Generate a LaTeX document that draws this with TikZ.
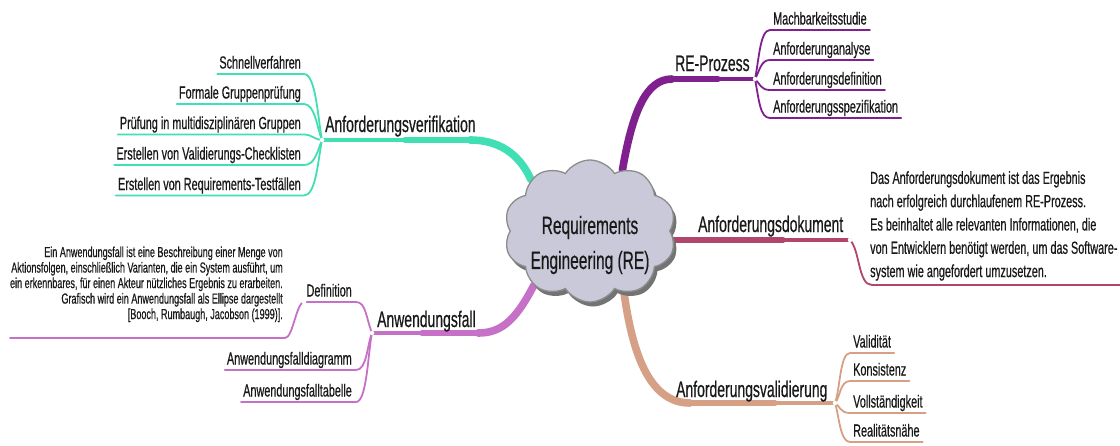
\documentclass[tikz,border=0pt]{standalone}
\usepackage{fontspec}
\setmainfont{Liberation Sans}[FakeStretch=0.62, FakeBold=0.5]
\usetikzlibrary{shapes.symbols,shadows,calc}
\pgfdeclarelayer{bg}
\pgfsetlayers{bg,main}
\definecolor{verif}{HTML}{40DFB4}
\definecolor{proz}{HTML}{80208F}
\definecolor{doku}{HTML}{B0466E}
\definecolor{anw}{HTML}{C670C8}
\definecolor{vali}{HTML}{D6A087}
\definecolor{cloudfill}{HTML}{C9C9D9}
\definecolor{cloudline}{HTML}{8C8C8C}
\begin{document}
\begin{tikzpicture}[x=1pt,y=-1pt,
  mainlbl/.style={font=\fontsize{22.5}{26}\selectfont, inner sep=0pt, text=black!90},
  sublbl/.style={font=\fontsize{17.5}{20}\selectfont, inner sep=0pt, text=black!90},
  notetext/.style={inner sep=0pt, text=black!90},
  trunkthin/.style={line width=4.2pt, line cap=round},
  trunkmid/.style={line width=5.8pt, line cap=round},
  trunkthick/.style={line width=7.6pt, line cap=round},
  twig/.style={line width=1.8pt, line cap=round, line join=round},
  knot/.style={circle, fill=white, inner sep=0pt, minimum size=4.5pt},
  core/.style={cloud, cloud puffs=10, cloud puff arc=115, aspect=1.2,
    minimum width=172pt, minimum height=142pt, fill=cloudfill,
    draw=cloudline, line width=1.3pt,
    drop shadow={shadow xshift=3pt, shadow yshift=-4.5pt, fill=black!55, opacity=1}},
  coretext/.style={align=center, inner sep=0pt, font=\fontsize{25}{35}\selectfont, text=black!90}
]
\useasboundingbox (0,0) rectangle (1120,445);

% central topic
\node[core] (re) at (590,231) {};
\node[coretext] (retxt) at (590,245) {Requirements\\Engineering (RE)};

% branch junctions and free ends
\node[knot] (jv) at (322,140) {};
\node[knot] (jp) at (755,79) {};
\node[knot] (jd) at (850,240) {};
\node[knot] (jf) at (372,333) {};
\node[knot] (jval) at (835,403) {};
\node[knot] (jdef) at (304,302) {};
\coordinate (dend) at (1120,285);
\coordinate (defend) at (10,338);

% main topics
\node[mainlbl, anchor=base west] (lv) at (325,132) {Anforderungsverifikation};
\node[mainlbl, anchor=base west] (lp) at (675,71) {RE-Prozess};
\node[mainlbl, anchor=base west] (ld) at (698,232) {Anforderungsdokument};
\node[mainlbl, anchor=base west] (lf) at (377,327) {Anwendungsfall};
\node[mainlbl, anchor=base west] (lval) at (676,397) {Anforderungsvalidierung};

% verification subtopics
\node[sublbl, anchor=base east] (v1) at (301,68.5) {Schnellverfahren};
\node[sublbl, anchor=base east] (v2) at (301,98.5) {Formale Gruppenprüfung};
\node[sublbl, anchor=base east] (v3) at (301,129) {Prüfung in multidisziplinären Gruppen};
\node[sublbl, anchor=base east] (v4) at (301,159.5) {Erstellen von Validierungs-Checklisten};
\node[sublbl, anchor=base east] (v5) at (301,190) {Erstellen von Requirements-Testfällen};

% process subtopics
\node[sublbl, anchor=base west] (p1) at (773,24.5) {Machbarkeitsstudie};
\node[sublbl, anchor=base west] (p2) at (773,54.5) {Anforderunganalyse};
\node[sublbl, anchor=base west] (p3) at (773,84.5) {Anforderungsdefinition};
\node[sublbl, anchor=base west] (p4) at (773,112.5) {Anforderungsspezifikation};

% use case subtopics
\node[sublbl, anchor=base east] (f1) at (352,296.5) {Definition};
\node[sublbl, anchor=base east] (f2) at (352,364.5) {Anwendungsfalldiagramm};
\node[sublbl, anchor=base east] (f3) at (352,396.5) {Anwendungsfalltabelle};

% validation subtopics
\node[sublbl, anchor=base west] (a1) at (853,347.5) {Validität};
\node[sublbl, anchor=base west] (a2) at (853,375.5) {Konsistenz};
\node[sublbl, anchor=base west] (a3) at (853,407.5) {Vollständigkeit};
\node[sublbl, anchor=base west] (a4) at (853,436.5) {Realitätsnähe};

% notes
\node[notetext, anchor=north west, align=left, font=\fontsize{17.5}{23.3}\selectfont] (dtext) at (870,171)
  {Das Anforderungsdokument ist das Ergebnis\\nach erfolgreich durchlaufenem RE-Prozess.\\Es beinhaltet alle relevanten Informationen, die\\von Entwicklern benötigt werden, um das Software-\\system wie angefordert umzusetzen.};
\node[notetext, anchor=north east, align=right, font=\fontsize{14.6}{15.5}\selectfont] (deftxt) at (283,246.3)
  {Ein Anwendungsfall ist eine Beschreibung einer Menge von\\Aktionsfolgen, einschließlich Varianten, die ein System ausführt, um\\ein erkennbares, für einen Akteur nützliches Ergebnis zu erarbeiten.\\Grafisch wird ein Anwendungsfall als Ellipse dargestellt\\{[}Booch, Rumbaugh, Jacobson (1999){]}.};

\begin{pgfonlayer}{bg}
\fill[white] (0,0) rectangle (1120,445);
% trunks from the central topic, thinning towards the junctions
\draw[trunkthin, verif] (jv.center) -- (410,140);
\draw[trunkmid, verif] (405,140) -- (470,140);
\draw[trunkthick, verif] (470,140) .. controls (505,140) and (522,160) .. (re.139);

\draw[trunkthin, proz] (jp.center) -- (715,79);
\draw[trunkmid, proz] (718,79) -- (672,79);
\draw[trunkthick, proz] (672,79) .. controls (645,79) and (632,115) .. (re.62);

\draw[trunkthin, doku] (jd.center) -- (780,240);
\draw[trunkmid, doku] (783,240) -- (re.center |- jd.center);

\draw[trunkthin, anw] (jf.center) -- (425,333);
\draw[trunkmid, anw] (422,333) -- (478,333);
\draw[trunkthick, anw] (478,333) .. controls (500,333) and (515,322) .. (re.224);

\draw[trunkthick, vali] (re.-61) .. controls (632,350) and (648,403) .. (690,403);
\draw[trunkmid, vali] (690,403) -- (775,403);
\draw[trunkthin, vali] (772,403) -- (jval.center);

% verification twigs
\draw[twig, verif] (jv.center) .. controls (318,120) and (316,74) .. ($(v1.base east)+(3,5.5)$) -- ($(v1.base west)+(-2,5.5)$);
\draw[twig, verif] (jv.center) .. controls (317,128) and (315,104) .. ($(v2.base east)+(3,5.5)$) -- ($(v2.base west)+(-2,5.5)$);
\draw[twig, verif] (jv.center) .. controls (315,140) and (312,134.5) .. ($(v3.base east)+(3,5.5)$) -- ($(v3.base west)+(-2,5.5)$);
\draw[twig, verif] (jv.center) .. controls (317,152) and (315,165) .. ($(v4.base east)+(3,5.5)$) -- ($(v4.base west)+(-2,5.5)$);
\draw[twig, verif] (jv.center) .. controls (318,160) and (316,195.5) .. ($(v5.base east)+(3,5.5)$) -- ($(v5.base west)+(-2,5.5)$);

% process twigs
\draw[twig, proz] (jp.center) .. controls (759,60) and (760,30) .. ($(p1.base west)+(-3,5.5)$) -- ($(p1.base east)+(3,5.5)$);
\draw[twig, proz] (jp.center) .. controls (760,70) and (761,60) .. ($(p2.base west)+(-3,5.5)$) -- ($(p2.base east)+(3,5.5)$);
\draw[twig, proz] (jp.center) .. controls (760,84) and (761,90) .. ($(p3.base west)+(-3,5.5)$) -- ($(p3.base east)+(3,5.5)$);
\draw[twig, proz] (jp.center) .. controls (759,100) and (760,118) .. ($(p4.base west)+(-3,5.5)$) -- ($(p4.base east)+(3,5.5)$);

% document note
\draw[twig, doku] (jd.center) .. controls (860,250) and (858,285) .. ($(dend -| dtext.west)+(2,0)$) -- (dend);

% use case twigs
\draw[twig, anw] (jf.center) .. controls (366,318) and (366,302) .. ($(f1.base east)+(4,5.5)$) -- (jdef.center);
\draw[twig, anw] (jdef.center) .. controls (296,303) and (293,338) .. ($(defend -| deftxt.east)+(2,0)$) -- (defend);
\draw[twig, anw] (jf.center) .. controls (367,345) and (367,370) .. ($(f2.base east)+(4,5.5)$) -- ($(f2.base west)+(-2,5.5)$);
\draw[twig, anw] (jf.center) .. controls (368,352) and (367,402) .. ($(f3.base east)+(4,5.5)$) -- ($(f3.base west)+(-2,5.5)$);

% validation twigs
\draw[twig, vali] (jval.center) .. controls (840,390) and (840,353) .. ($(a1.base west)+(-3,5.5)$) -- ($(a1.base east)+(3,5.5)$);
\draw[twig, vali] (jval.center) .. controls (840,398) and (840,381) .. ($(a2.base west)+(-3,5.5)$) -- ($(a2.base east)+(3,5.5)$);
\draw[twig, vali] (jval.center) .. controls (840,406) and (840,413) .. ($(a3.base west)+(-3,5.5)$) -- ($(a3.base east)+(3,5.5)$);
\draw[twig, vali] (jval.center) .. controls (839,415) and (840,442) .. ($(a4.base west)+(-3,5.5)$) -- ($(a4.base east)+(3,5.5)$);
\end{pgfonlayer}
\end{tikzpicture}
\end{document}
